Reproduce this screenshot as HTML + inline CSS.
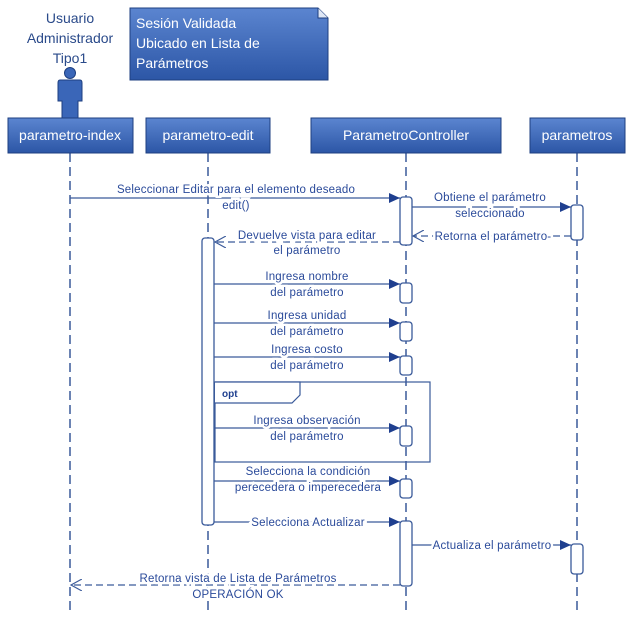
<!DOCTYPE html>
<html><head><meta charset="utf-8"><style>
html,body{margin:0;padding:0;background:#fff;}
svg{display:block;font-family:"Liberation Sans",sans-serif;}
.t{fill:#2a4a9a;font-size:11.5px;text-anchor:middle;stroke:#fff;stroke-width:5px;paint-order:stroke;letter-spacing:0.2px}
.ll{stroke:#3a5a9a;stroke-width:1.5;stroke-dasharray:9,5}
.m{stroke:#3a5a9a;stroke-width:1.3;fill:none}
.d{stroke:#3a5a9a;stroke-width:1.3;fill:none;stroke-dasharray:7,4}
.act{fill:#fff;stroke:#3a5a9a;stroke-width:1.3}
.hd{fill:url(#g);stroke:#1e3f80;stroke-width:1}
.ht{fill:#fff;font-size:14px;text-anchor:middle}
</style></head><body>
<svg width="633" height="617" viewBox="0 0 633 617">
<defs>
<linearGradient id="g" x1="0" y1="0" x2="0" y2="1"><stop offset="0" stop-color="#5b85d0"/><stop offset="1" stop-color="#2c56a6"/></linearGradient>
<marker id="a" markerWidth="12" markerHeight="10" refX="11" refY="5" orient="auto" markerUnits="userSpaceOnUse"><path d="M0,0 L11,5 L0,10 Z" fill="#1f3f8f"/></marker>
<marker id="o" markerWidth="12" markerHeight="12" refX="11" refY="6" orient="auto" markerUnits="userSpaceOnUse"><path d="M0,0 L11,6 L0,12" fill="none" stroke="#3a5a9a" stroke-width="1.2"/></marker>
</defs>
<line class="ll" x1="70" y1="153" x2="70" y2="610"/>
<line class="ll" x1="208" y1="153" x2="208" y2="610"/>
<line class="ll" x1="406" y1="153" x2="406" y2="610"/>
<line class="ll" x1="577" y1="153" x2="577" y2="610"/>
<text x="70" y="23" fill="#2a4a8a" font-size="14" text-anchor="middle">Usuario</text>
<text x="70" y="43" fill="#2a4a8a" font-size="14" text-anchor="middle">Administrador</text>
<text x="70" y="63" fill="#2a4a8a" font-size="14" text-anchor="middle">Tipo1</text>
<circle cx="70" cy="73" r="5.5" fill="#3a66b8" stroke="#1e3f80"/>
<path d="M60,80 H80 Q82,80 82,83 V101 H78 V118 H62 V101 H58 V83 Q58,80 60,80Z" fill="#3a66b8" stroke="#1e3f80"/>
<path d="M130,8 H318 L328,18 V80 H130 Z" fill="url(#g)" stroke="#1e3f80"/>
<path d="M318,8 V18 H328" fill="#dfe7f5" stroke="#1e3f80"/>
<text x="136" y="28" fill="#fff" font-size="14">Sesión Validada</text>
<text x="136" y="48" fill="#fff" font-size="14">Ubicado en Lista de</text>
<text x="136" y="68" fill="#fff" font-size="14">Parámetros</text>
<rect class="hd" x="8" y="118" width="125" height="35"/><text class="ht" x="70" y="140">parametro-index</text>
<rect class="hd" x="146" y="118" width="124" height="35"/><text class="ht" x="208" y="140">parametro-edit</text>
<rect class="hd" x="311" y="118" width="190" height="35"/><text class="ht" x="406" y="140">ParametroController</text>
<rect class="hd" x="530" y="118" width="95" height="35"/><text class="ht" x="577" y="140">parametros</text>
<rect x="215" y="382" width="215" height="80" fill="none" stroke="#3a5a9a" stroke-width="1.2"/>
<path d="M215,382 H300 V395 L292,403 H215" fill="#fff" stroke="#3a5a9a" stroke-width="1.2"/>
<text x="222" y="397" font-size="10" font-weight="bold" fill="#1f3f8f">opt</text>
<rect class="act" x="202" y="238" width="12" height="287" rx="3"/>
<rect class="act" x="400" y="197" width="12" height="48" rx="3"/>
<rect class="act" x="571" y="205" width="12" height="35" rx="3"/>
<rect class="act" x="400" y="283" width="12" height="20" rx="3"/>
<rect class="act" x="400" y="322" width="12" height="19" rx="3"/>
<rect class="act" x="400" y="356" width="12" height="19" rx="3"/>
<rect class="act" x="400" y="426" width="12" height="20" rx="3"/>
<rect class="act" x="400" y="479" width="12" height="19" rx="3"/>
<rect class="act" x="400" y="521" width="12" height="65" rx="3"/>
<rect class="act" x="571" y="544" width="12" height="30" rx="3"/>
<line class="m" x1="70" y1="198" x2="400" y2="198" marker-end="url(#a)"/>
<text class="t" x="236" y="193">Seleccionar Editar para el elemento deseado</text>
<text class="t" x="236" y="209">edit()</text>
<line class="m" x1="412" y1="207" x2="571" y2="207" marker-end="url(#a)"/>
<text class="t" x="490" y="201">Obtiene el parámetro</text>
<text class="t" x="490" y="217">seleccionado</text>
<line class="d" x1="571" y1="236" x2="413" y2="236" marker-end="url(#o)"/>
<text class="t" x="493" y="240">Retorna el parámetro-</text>
<line class="d" x1="400" y1="242" x2="215" y2="242" marker-end="url(#o)"/>
<text class="t" x="307" y="239">Devuelve vista para editar</text>
<text class="t" x="307" y="254">el parámetro</text>
<line class="m" x1="214" y1="284" x2="400" y2="284" marker-end="url(#a)"/>
<text class="t" x="307" y="280">Ingresa nombre</text>
<text class="t" x="307" y="296">del parámetro</text>
<line class="m" x1="214" y1="323" x2="400" y2="323" marker-end="url(#a)"/>
<text class="t" x="307" y="319">Ingresa unidad</text>
<text class="t" x="307" y="335">del parámetro</text>
<line class="m" x1="214" y1="357" x2="400" y2="357" marker-end="url(#a)"/>
<text class="t" x="307" y="353">Ingresa costo</text>
<text class="t" x="307" y="369">del parámetro</text>
<line class="m" x1="214" y1="428" x2="400" y2="428" marker-end="url(#a)"/>
<text class="t" x="307" y="424">Ingresa observación</text>
<text class="t" x="307" y="440">del parámetro</text>
<line class="m" x1="214" y1="481" x2="400" y2="481" marker-end="url(#a)"/>
<text class="t" x="308" y="475">Selecciona la condición</text>
<text class="t" x="308" y="491">perecedera o imperecedera</text>
<line class="m" x1="214" y1="522" x2="400" y2="522" marker-end="url(#a)"/>
<text class="t" x="308" y="526">Selecciona Actualizar</text>
<line class="m" x1="412" y1="545" x2="571" y2="545" marker-end="url(#a)"/>
<text class="t" x="492" y="549">Actualiza el parámetro</text>
<line class="d" x1="400" y1="585" x2="71" y2="585" marker-end="url(#o)"/>
<text class="t" x="238" y="582">Retorna vista de Lista de Parámetros</text>
<text class="t" x="238" y="598">OPERACIÓN OK</text>
</svg>
</body></html>
